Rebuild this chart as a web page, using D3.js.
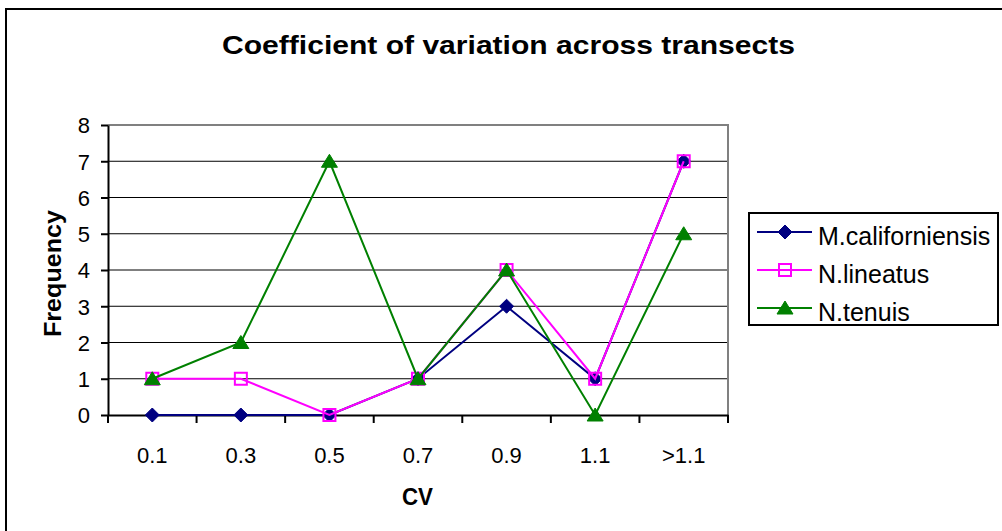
<!DOCTYPE html>
<html>
<head>
<meta charset="utf-8">
<script src="https://cdn.jsdelivr.net/npm/d3@7"></script>
<style>
	body { margin: 0; background: #fff; }
	svg { display: block; font-family: "Liberation Sans", Arial, sans-serif; }
</style>
</head>
<body>
<div id="chart"></div>
<script>
// Chart data:
var categories = ["0.1", "0.3", "0.5", "0.7", "0.9", "1.1", ">1.1"];
var mCalifValues = [0, 0, 0, 1, 3, 1, 7];
var nLineatusValues = [1, 1, 0, 1, 4, 1, 7];
var nTenuisValues = [1, 2, 7, 1, 4, 0, 5];
var yTicks = [0, 1, 2, 3, 4, 5, 6, 7, 8];

var series = [
	{ name: "M.californiensis", values: mCalifValues, color: "#000080", marker: "diamond" },
	{ name: "N.lineatus", values: nLineatusValues, color: "#FF00FF", marker: "square" },
	{ name: "N.tenuis", values: nTenuisValues, color: "#008000", marker: "triangle" }
];

var W = 1002, H = 531;
var plot = { left: 108, right: 728, top: 125, bottom: 415 };

var svg = d3.select("#chart").append("svg")
	.attr("width", W)
	.attr("height", H);

// Outer chart border (runs off the right and bottom edges):
svg.append("rect")
	.attr("x", 6).attr("y", 9)
	.attr("width", W + 10).attr("height", H + 10)
	.attr("fill", "none")
	.attr("stroke", "#000")
	.attr("stroke-width", 2);

// Scales:
var xScale = d3.scaleBand()
	.domain(categories)
	.range([plot.left, plot.right])
	.paddingInner(0).paddingOuter(0);

var yScale = d3.scaleLinear()
	.domain([0, 8])
	.range([plot.bottom, plot.top]);

// Gridlines:
svg.append("g")
	.selectAll("line")
	.data(yTicks.filter(function(d){ return d > 0 && d < 8; }))
	.enter()
	.append("line")
	.attr("x1", plot.left).attr("x2", plot.right)
	.attr("y1", function(d){ return yScale(d); })
	.attr("y2", function(d){ return yScale(d); })
	.attr("stroke", "#000")
	.attr("stroke-width", 1);

// Plot area border, top and right in grey:
svg.append("path")
	.attr("d", "M" + plot.left + "," + yScale(8) + "H" + plot.right + "V" + plot.bottom)
	.attr("fill", "none")
	.attr("stroke", "#808080")
	.attr("stroke-width", 2);

// Y axis:
var yAxisGroup = svg.append("g")
	.attr("transform", "translate(" + plot.left + ",0)")
	.call(d3.axisLeft(yScale).tickValues(yTicks).tickSize(7).tickSizeOuter(0).tickPadding(11));
yAxisGroup.select(".domain").attr("stroke", "#000").attr("stroke-width", 2);
yAxisGroup.selectAll(".tick line").attr("stroke", "#000").attr("stroke-width", 2);
yAxisGroup.selectAll("text")
	.attr("font-size", "22px")
	.attr("font-family", "Liberation Sans, Arial, sans-serif")
	.attr("fill", "#000")
	.attr("dy", "0.36em");

// X axis: labels at band centres, tick marks at band boundaries
var xAxisGroup = svg.append("g")
	.attr("transform", "translate(0," + plot.bottom + ")")
	.call(d3.axisBottom(xScale).tickSize(0).tickSizeOuter(0).tickPadding(48));
xAxisGroup.select(".domain").attr("stroke", "#000").attr("stroke-width", 2);
xAxisGroup.selectAll("text")
	.attr("font-size", "22px")
	.attr("font-family", "Liberation Sans, Arial, sans-serif")
	.attr("fill", "#000")
	.attr("dy", "0");

var boundaries = categories.map(function(c){ return xScale(c); }).concat([plot.right]);
svg.append("g")
	.selectAll("line")
	.data(boundaries)
	.enter()
	.append("line")
	.attr("x1", function(d){ return d; }).attr("x2", function(d){ return d; })
	.attr("y1", plot.bottom).attr("y2", plot.bottom + 8)
	.attr("stroke", "#000")
	.attr("stroke-width", 2);

// Marker shapes:
function markerPath(type) {
	if (type == "diamond")
		return "M0,-7L7,0L0,7L-7,0Z";
	if (type == "square")
		return "M-6,-6H6V6H-6Z";
	return "M0,-7L8,6H-8Z";
}

function drawMarker(sel, s) {
	sel.append("path")
		.attr("d", markerPath(s.marker))
		.attr("fill", s.marker == "square" ? "none" : s.color)
		.attr("stroke", s.color)
		.attr("stroke-width", s.marker == "square" ? 2 : 1);
}

// Series lines and markers:
var line = d3.line()
	.x(function(d, i){ return xScale(categories[i]) + xScale.bandwidth() / 2; })
	.y(function(d){ return yScale(d); });

series.forEach(function(s){
	svg.append("path")
		.datum(s.values)
		.attr("d", line)
		.attr("fill", "none")
		.attr("stroke", s.color)
		.attr("stroke-width", 2);

	svg.append("g")
		.selectAll("g")
		.data(s.values)
		.enter()
		.append("g")
		.attr("transform", function(d, i){
			return "translate(" + (xScale(categories[i]) + xScale.bandwidth() / 2) + "," + yScale(d) + ")";
		})
		.each(function(){ drawMarker(d3.select(this), s); });
});

// Title and axis titles:
svg.append("text")
	.attr("x", 222).attr("y", 54)
	.attr("font-size", "25px")
	.attr("font-weight", "bold")
	.attr("textLength", 573)
	.attr("lengthAdjust", "spacingAndGlyphs")
	.text("Coefficient of variation across transects");

svg.append("text")
	.attr("x", 402).attr("y", 505)
	.attr("font-size", "24px")
	.attr("font-weight", "bold")
	.attr("textLength", 31)
	.attr("lengthAdjust", "spacingAndGlyphs")
	.text("CV");

svg.append("text")
	.attr("transform", "translate(61,337) rotate(-90)")
	.attr("font-size", "24px")
	.attr("font-weight", "bold")
	.attr("textLength", 127)
	.attr("lengthAdjust", "spacingAndGlyphs")
	.text("Frequency");

// Legend:
var legend = svg.append("g");
legend.append("rect")
	.attr("x", 749).attr("y", 213)
	.attr("width", 249).attr("height", 112)
	.attr("fill", "#fff")
	.attr("stroke", "#000")
	.attr("stroke-width", 2);

var legendRows = legend.selectAll(".legendRow")
	.data(series)
	.enter()
	.append("g")
	.attr("class", "legendRow")
	.attr("transform", function(d, i){ return "translate(0," + (232 + i * 38) + ")"; });

legendRows.append("line")
	.attr("x1", 757).attr("x2", 812)
	.attr("y1", 0).attr("y2", 0)
	.attr("stroke", function(d){ return d.color; })
	.attr("stroke-width", 2);

legendRows.each(function(s){
	var g = d3.select(this).append("g").attr("transform", "translate(785,0)");
	drawMarker(g, s);
});

legendRows.append("text")
	.attr("x", 818).attr("y", 13)
	.attr("font-size", "25px")
	.attr("fill", "#000")
	.text(function(d){ return d.name; });
</script>
</body>
</html>
